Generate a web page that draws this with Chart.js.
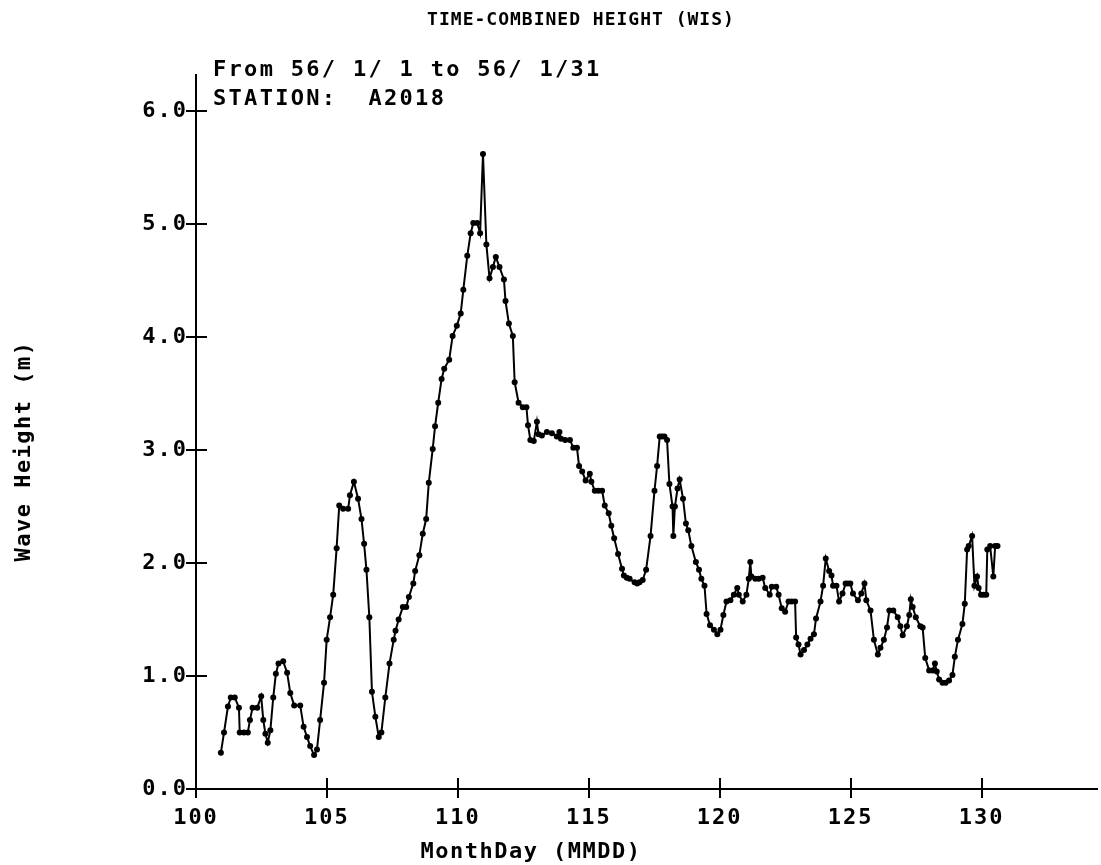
<!DOCTYPE html>
<html><head><meta charset="utf-8">
<script src="https://cdn.jsdelivr.net/npm/chart.js@4"></script>
<style>html,body{margin:0;padding:0;background:#fff}#wrap{width:1101px;height:865px}</style>
</head><body><div id="wrap"><canvas id="c" width="1101" height="865"></canvas></div>
<script>
const days = [100.95,101.07,101.22,101.33,101.48,101.64,101.67,101.83,101.98,102.06,102.16,102.34,102.49,102.57,102.65,102.74,102.84,102.95,103.05,103.15,103.33,103.48,103.60,103.75,103.98,104.11,104.24,104.36,104.51,104.62,104.74,104.89,104.99,105.12,105.24,105.37,105.47,105.62,105.81,105.88,106.03,106.19,106.32,106.42,106.51,106.62,106.72,106.85,106.98,107.08,107.23,107.39,107.55,107.62,107.74,107.90,108.03,108.13,108.30,108.37,108.53,108.66,108.79,108.89,109.04,109.13,109.25,109.38,109.48,109.67,109.80,109.96,110.11,110.21,110.36,110.49,110.59,110.74,110.85,110.96,111.09,111.21,111.34,111.45,111.59,111.76,111.82,111.95,112.10,112.17,112.32,112.48,112.62,112.68,112.77,112.90,113.02,113.08,113.21,113.40,113.59,113.78,113.88,113.94,114.10,114.28,114.41,114.55,114.63,114.75,114.88,115.04,115.10,115.23,115.37,115.51,115.61,115.76,115.86,115.97,116.12,116.27,116.34,116.45,116.56,116.75,116.85,116.94,117.06,117.19,117.36,117.51,117.61,117.71,117.80,117.89,117.99,118.08,118.20,118.23,118.29,118.39,118.47,118.60,118.71,118.80,118.92,119.09,119.21,119.30,119.42,119.50,119.63,119.78,119.91,120.03,120.14,120.26,120.41,120.54,120.67,120.73,120.88,121.02,121.11,121.17,121.21,121.36,121.49,121.64,121.74,121.91,121.99,122.16,122.25,122.37,122.50,122.63,122.75,122.88,122.92,123.01,123.09,123.22,123.35,123.47,123.60,123.68,123.85,123.95,124.05,124.18,124.27,124.33,124.46,124.56,124.69,124.81,124.90,124.99,125.09,125.28,125.41,125.53,125.60,125.76,125.89,126.04,126.14,126.27,126.39,126.48,126.63,126.80,126.90,126.99,127.15,127.24,127.30,127.37,127.49,127.66,127.75,127.85,128.00,128.13,128.22,128.29,128.38,128.51,128.63,128.76,128.89,128.98,129.10,129.27,129.36,129.45,129.51,129.64,129.73,129.83,129.89,129.98,130.08,130.18,130.22,130.33,130.45,130.52,130.61];
const heights = [0.32,0.50,0.73,0.81,0.81,0.72,0.50,0.50,0.50,0.61,0.72,0.72,0.82,0.61,0.49,0.41,0.52,0.81,1.02,1.11,1.13,1.03,0.85,0.74,0.74,0.55,0.46,0.38,0.30,0.35,0.61,0.94,1.32,1.52,1.72,2.13,2.51,2.48,2.48,2.60,2.72,2.57,2.39,2.17,1.94,1.52,0.86,0.64,0.46,0.50,0.81,1.11,1.32,1.40,1.50,1.61,1.61,1.70,1.82,1.93,2.07,2.26,2.39,2.71,3.01,3.21,3.42,3.63,3.72,3.80,4.01,4.10,4.21,4.42,4.72,4.92,5.01,5.01,4.92,5.62,4.82,4.52,4.62,4.71,4.62,4.51,4.32,4.12,4.01,3.60,3.42,3.38,3.38,3.22,3.09,3.08,3.25,3.14,3.13,3.16,3.15,3.12,3.16,3.10,3.09,3.09,3.02,3.02,2.86,2.81,2.73,2.79,2.72,2.64,2.64,2.64,2.51,2.44,2.33,2.22,2.08,1.95,1.89,1.87,1.86,1.83,1.82,1.83,1.85,1.94,2.24,2.64,2.86,3.12,3.12,3.12,3.09,2.70,2.50,2.24,2.50,2.66,2.74,2.57,2.35,2.29,2.15,2.01,1.94,1.86,1.80,1.55,1.45,1.41,1.37,1.41,1.54,1.66,1.67,1.72,1.78,1.72,1.66,1.72,1.86,2.01,1.88,1.86,1.86,1.87,1.78,1.72,1.79,1.79,1.72,1.60,1.57,1.66,1.66,1.66,1.34,1.28,1.19,1.23,1.28,1.33,1.37,1.51,1.66,1.80,2.04,1.93,1.89,1.80,1.80,1.66,1.73,1.82,1.82,1.82,1.73,1.67,1.73,1.82,1.67,1.58,1.32,1.19,1.25,1.32,1.43,1.58,1.58,1.52,1.44,1.36,1.44,1.54,1.68,1.61,1.52,1.44,1.43,1.16,1.05,1.05,1.11,1.04,0.97,0.94,0.94,0.96,1.01,1.17,1.32,1.46,1.64,2.12,2.15,2.24,1.80,1.88,1.78,1.72,1.72,1.72,2.12,2.15,1.88,2.15,2.15];
const xTicks = [100,105,110,115,120,125,130];
const yTicks = [0,1,2,3,4,5,6];
const titleText = 'TIME-COMBINED HEIGHT (WIS)';
const infoLines = ['From 56/ 1/ 1 to 56/ 1/31', 'STATION:  A2018'];
const xTitle = 'MonthDay (MMDD)';
const yTitle = 'Wave Height (m)';

const FONT = "'DejaVu Sans Mono', 'Liberation Mono', monospace";
const points = days.map((d, i) => ({x: d, y: heights[i]}));

const decor = {
  id: 'decor',
  beforeDraw(chart) { chart.ctx.letterSpacing = '2px'; },
  afterDraw(chart) {
    const ctx = chart.ctx;
    const xs = chart.scales.x, ys = chart.scales.y;
    ctx.save();
    ctx.strokeStyle = '#000';
    ctx.lineWidth = 2;
    const x0 = xs.left, y0 = ys.bottom;
    ys.ticks.forEach(t => {
      const py = Math.round(ys.getPixelForValue(t.value));
      ctx.beginPath(); ctx.moveTo(x0 - 10, py); ctx.lineTo(x0 + 11, py); ctx.stroke();
    });
    xs.ticks.forEach(t => {
      const px = Math.round(xs.getPixelForValue(t.value));
      ctx.beginPath(); ctx.moveTo(px, y0 - 11); ctx.lineTo(px, y0 + 9); ctx.stroke();
    });
    ctx.fillStyle = '#000';
    ctx.textBaseline = 'alphabetic';
    ctx.letterSpacing = '1px';
    ctx.font = 'bold 18px ' + FONT;
    ctx.textAlign = 'center';
    ctx.fillText(titleText, 581, 25);
    ctx.letterSpacing = '2.3px';
    ctx.font = 'bold 22px ' + FONT;
    ctx.textAlign = 'left';
    ctx.fillText(infoLines[0], 213, 76);
    ctx.fillText(infoLines[1], 213, 105);
    ctx.letterSpacing = '1.5px';
    ctx.textAlign = 'center';
    ctx.fillText(xTitle, 531, 858);
    ctx.translate(30, 451);
    ctx.rotate(-Math.PI / 2);
    ctx.fillText(yTitle, 0, 0);
    ctx.restore();
    ctx.letterSpacing = '0px';
  }
};

new Chart(document.getElementById('c'), {
  type: 'line',
  data: { datasets: [{
    data: points,
    borderColor: '#000',
    backgroundColor: '#000',
    borderWidth: 2,
    pointRadius: 3,
    pointBorderWidth: 0,
    pointBackgroundColor: '#000',
    tension: 0,
    fill: false
  }]},
  options: {
    responsive: false,
    devicePixelRatio: 1,
    animation: false,
    layout: { padding: { top: 75, right: 0, left: 0, bottom: 0 } },
    plugins: { legend: { display: false }, tooltip: { enabled: false }, title: { display: false } },
    scales: {
      x: {
        type: 'linear', min: 100, max: 134.41,
        afterBuildTicks: s => { s.ticks = xTicks.map(v => ({ value: v })); },
        afterFit: s => { s.height = 76; },
        grid: { display: false, drawTicks: false },
        border: { display: true, color: '#000', width: 2 },
        ticks: { color: '#000', padding: 16, maxRotation: 0, autoSkip: false,
          font: { family: FONT, size: 22, weight: 'bold' }, callback: v => String(v) }
      },
      y: {
        type: 'linear', min: 0, max: 6.32,
        afterBuildTicks: s => { s.ticks = yTicks.map(v => ({ value: v })); },
        afterFit: s => { s.width = 196; },
        grid: { display: false, drawTicks: false },
        border: { display: true, color: '#000', width: 2 },
        ticks: { color: '#000', padding: 8, autoSkip: false,
          font: { family: FONT, size: 22, weight: 'bold' }, callback: v => Number(v).toFixed(1) }
      }
    }
  },
  plugins: [decor]
});
</script>
</body></html>
